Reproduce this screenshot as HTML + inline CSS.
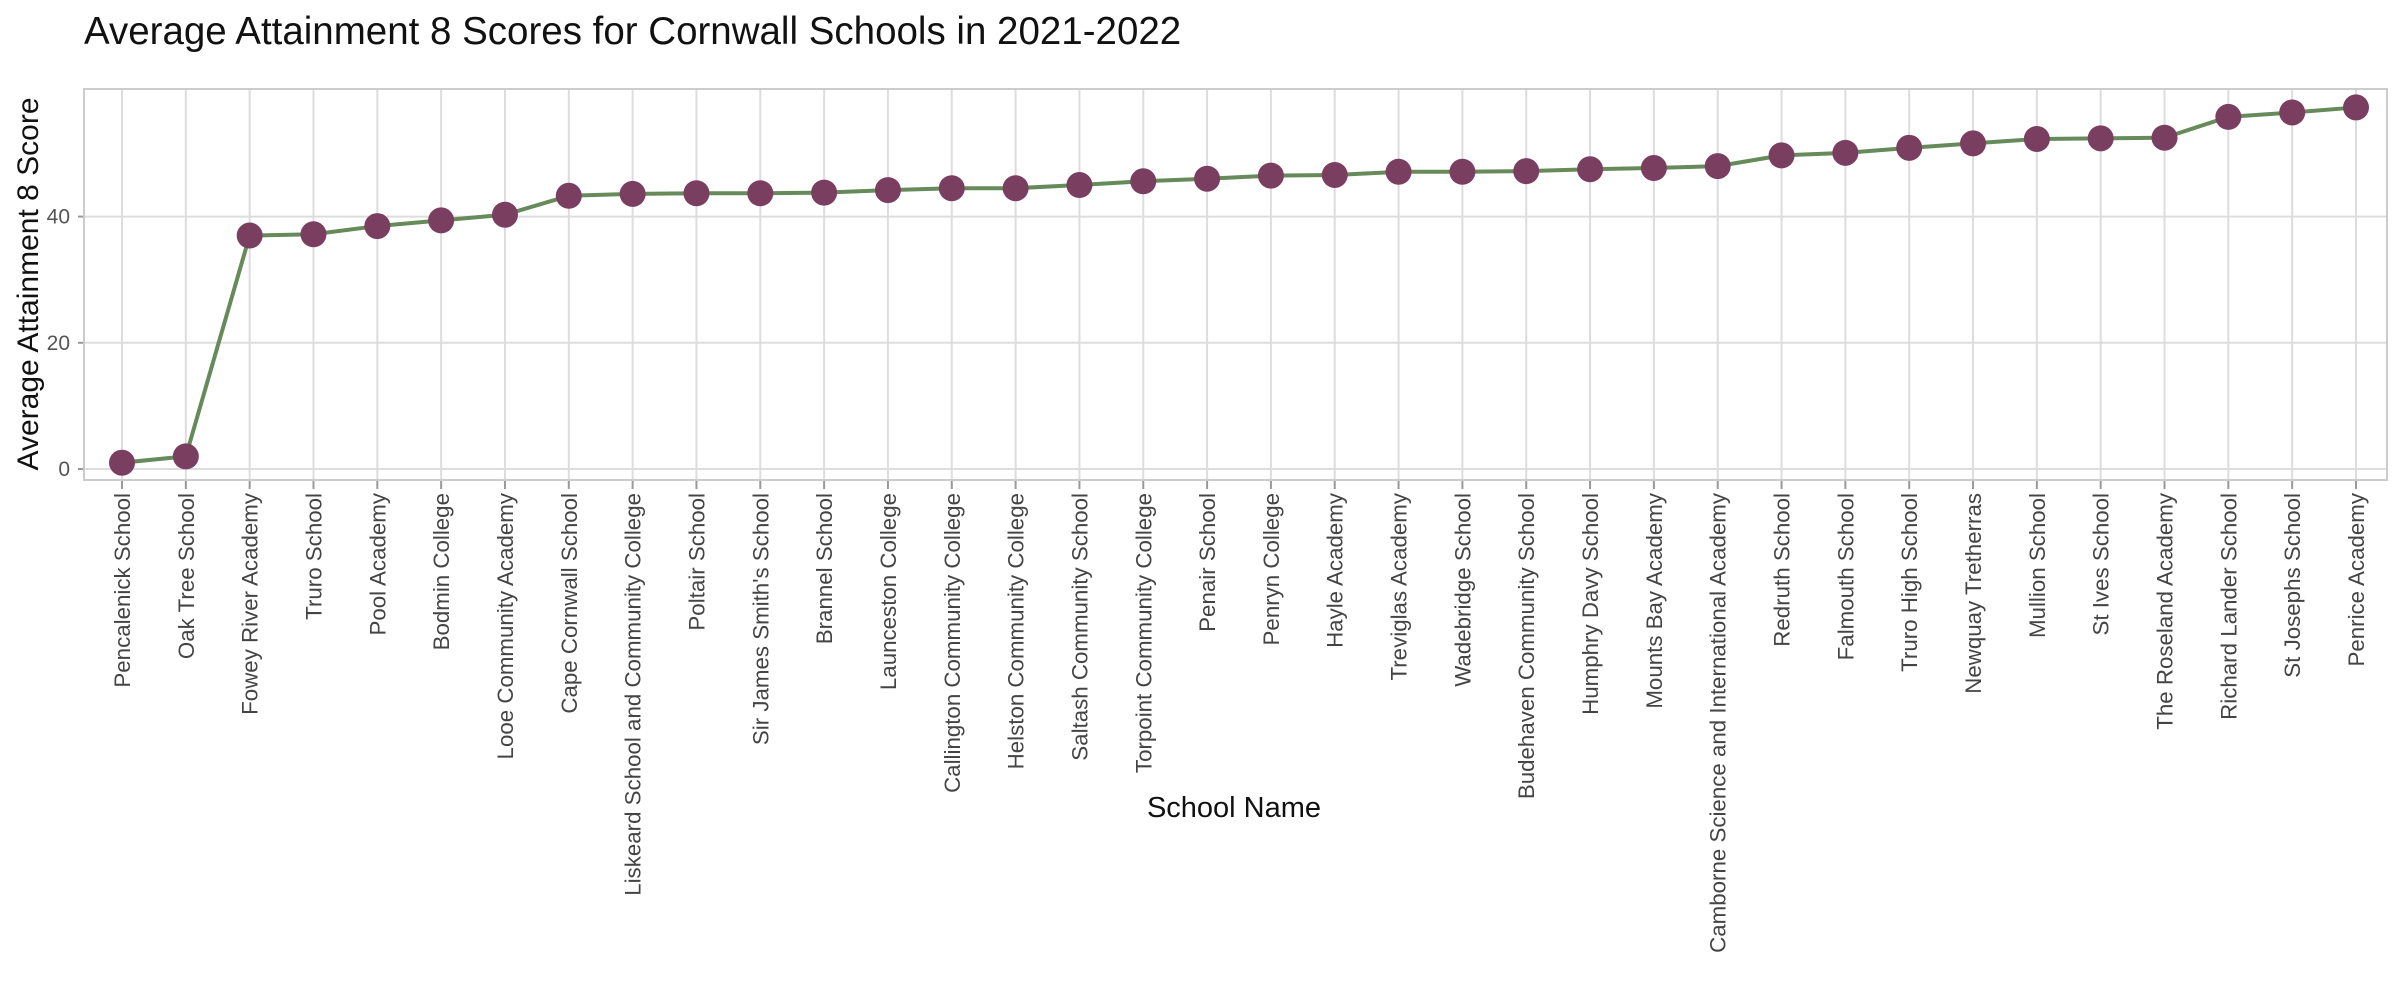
<!DOCTYPE html>
<html><head><meta charset="utf-8"><style>
html,body{margin:0;padding:0;background:#fff;width:2396px;height:994px;overflow:hidden}
svg{display:block;font-family:"Liberation Sans",sans-serif}
</style></head><body>
<svg id="chart" width="2396" height="994" viewBox="0 0 2396 994">
<text x="84" y="44" font-size="38.5" fill="#111">Average Attainment 8 Scores for Cornwall Schools in 2021-2022</text>
<g id="grid"></g>
<g id="yticks"></g>
<g id="xticks"></g>
<g id="series"></g>
<rect x="84" y="89" width="2303" height="391" fill="none" stroke="#cccccc" stroke-width="2"/>
<text transform="translate(38,284) rotate(-90)" text-anchor="middle" font-size="30" fill="#111">Average Attainment 8 Score</text>
<text x="1234" y="817" text-anchor="middle" font-size="29" fill="#111">School Name</text>
</svg>
<script>
const schools = ["Pencalenick School","Oak Tree School","Fowey River Academy","Truro School","Pool Academy","Bodmin College","Looe Community Academy","Cape Cornwall School","Liskeard School and Community College","Poltair School","Sir James Smith's School","Brannel School","Launceston College","Callington Community College","Helston Community College","Saltash Community School","Torpoint Community College","Penair School","Penryn College","Hayle Academy","Treviglas Academy","Wadebridge School","Budehaven Community School","Humphry Davy School","Mounts Bay Academy","Camborne Science and International Academy","Redruth School","Falmouth School","Truro High School","Newquay Tretherras","Mullion School","St Ives School","The Roseland Academy","Richard Lander School","St Josephs School","Penrice Academy"];
const scores = [1.0,2.0,37.0,37.2,38.5,39.4,40.3,43.3,43.6,43.7,43.7,43.8,44.2,44.5,44.5,45.0,45.6,46.0,46.5,46.6,47.1,47.1,47.2,47.5,47.7,48.0,49.7,50.1,50.9,51.6,52.3,52.4,52.5,55.8,56.5,57.3];
const yTicks = [0,20,40];

const NS="http://www.w3.org/2000/svg";
const px0=122, px1=2356, y0=469, yPerUnit=6.31;
const xs = i => px0 + i*(px1-px0)/(schools.length-1);
const ys = v => y0 - v*yPerUnit;
function mk(tag, attrs, parent){const e=document.createElementNS(NS,tag);for(const k in attrs)e.setAttribute(k,attrs[k]);parent.appendChild(e);return e;}
const grid=document.getElementById('grid'), yt=document.getElementById('yticks'), xt=document.getElementById('xticks'), ser=document.getElementById('series');
yTicks.forEach(t=>{
  const g=mk('line',{x1:84,x2:2387,y1:ys(t),y2:ys(t),stroke:'#dddddd','stroke-width':2},grid);
  
  
  mk('line',{x1:78,x2:84,y1:ys(t),y2:ys(t),stroke:'#999','stroke-width':2},yt);
  const tx=mk('text',{x:70,y:ys(t)+7,'text-anchor':'end','font-size':21,fill:'#555'},yt);
  tx.textContent=t;
  
  
});
schools.forEach((s,i)=>{
  const x=xs(i);
  const g=mk('line',{x1:x,x2:x,y1:89,y2:480,stroke:'#dddddd','stroke-width':2},grid);
  
  
  mk('line',{x1:x,x2:x,y1:481,y2:489,stroke:'#999','stroke-width':2},xt);
  const tx=mk('text',{transform:`translate(${x+8},493) rotate(-90)`,'text-anchor':'end','font-size':22.3,fill:'#444'},xt);
  tx.textContent=s;
  
  
});
const path=mk('polyline',{points:scores.map((v,i)=>xs(i)+','+ys(v)).join(' '),fill:'none',stroke:'#668a5a','stroke-width':4,'stroke-linejoin':'round'},ser);


scores.forEach((v,i)=>{
  const c=mk('ellipse',{cx:xs(i),cy:ys(v),rx:13,ry:13,fill:'#7a3f60'},ser);
  
  
});
</script>
</body></html>
